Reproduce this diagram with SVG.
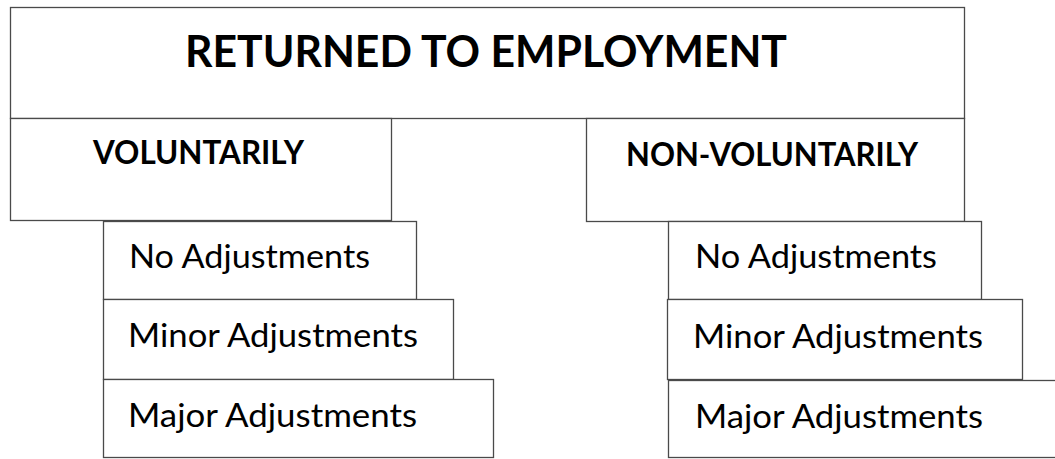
<svg xmlns="http://www.w3.org/2000/svg" width="1055" height="459" viewBox="0 0 1055 459">
<style>
.box{fill:#fff;stroke:#4a4a4a;stroke-width:1.3}
.h{font-family:Lato,"Open Sans","Liberation Sans",sans-serif;font-weight:bold;fill:#000}
.t{font-family:Lato,"Open Sans","Liberation Sans",sans-serif;font-size:33px;fill:#000}
</style>
<rect width="1055" height="459" fill="#fff"/>
<g id="connectors"></g>
<g id="top">
<rect class="box" x="10.5" y="7.5" width="954" height="111"/>
<text class="h" x="185" y="67" font-size="43" textLength="602" lengthAdjust="spacingAndGlyphs">RETURNED TO EMPLOYMENT</text>
</g>
<g id="voluntarily">
<rect class="box" x="10.5" y="118.5" width="381" height="102"/>
<text class="h" x="93" y="164" font-size="32" textLength="211" lengthAdjust="spacingAndGlyphs">VOLUNTARILY</text>
</g>
<g id="non-voluntarily">
<rect class="box" x="586.5" y="118.5" width="378" height="103"/>
<text class="h" x="626" y="166" font-size="32" textLength="292" lengthAdjust="spacingAndGlyphs">NON-VOLUNTARILY</text>
</g>
<g id="left-no">
<rect class="box" x="103.5" y="221.5" width="313" height="78"/>
<text class="t" x="129" y="268" textLength="241" lengthAdjust="spacingAndGlyphs">No Adjustments</text>
</g>
<g id="left-minor">
<rect class="box" x="103.5" y="299.5" width="350" height="80"/>
<text class="t" x="128" y="347" textLength="290" lengthAdjust="spacingAndGlyphs">Minor Adjustments</text>
</g>
<g id="left-major">
<rect class="box" x="103.5" y="379.5" width="390" height="78"/>
<text class="t" x="128" y="427" textLength="289" lengthAdjust="spacingAndGlyphs">Major Adjustments</text>
</g>
<g id="right-no">
<rect class="box" x="668.5" y="221.5" width="313" height="78"/>
<text class="t" x="695" y="268" textLength="242" lengthAdjust="spacingAndGlyphs">No Adjustments</text>
</g>
<g id="right-minor">
<rect class="box" x="667.5" y="299.5" width="355" height="80"/>
<text class="t" x="693" y="348" textLength="290" lengthAdjust="spacingAndGlyphs">Minor Adjustments</text>
</g>
<g id="right-major">
<rect class="box" x="668.5" y="380.5" width="400" height="77"/>
<text class="t" x="695" y="428" textLength="288" lengthAdjust="spacingAndGlyphs">Major Adjustments</text>
</g>
</svg>
